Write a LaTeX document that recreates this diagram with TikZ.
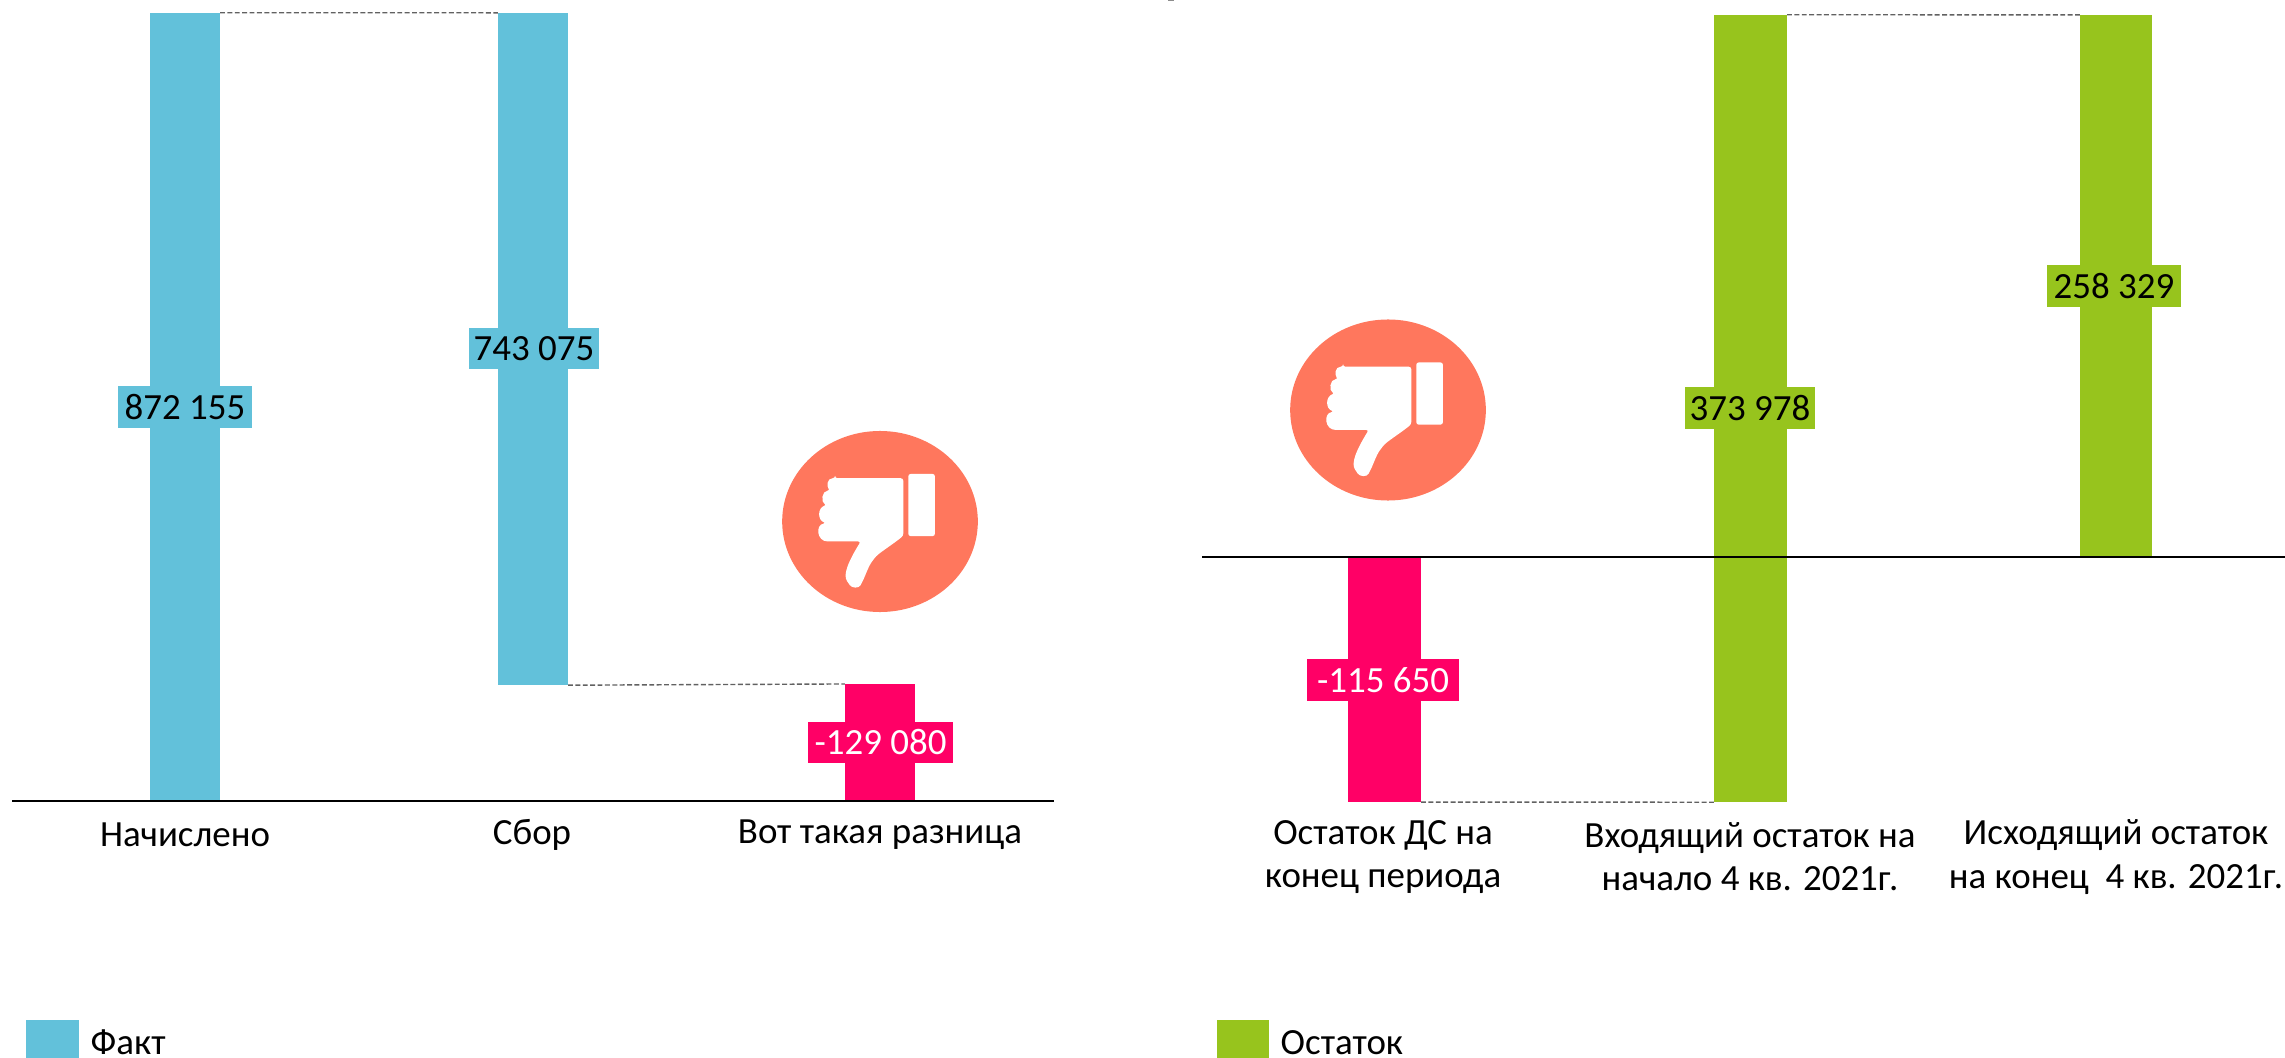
\documentclass[tikz,border=0pt]{standalone}
\usepackage{fontspec}
\setmainfont{Carlito}
\definecolor{qqfakt}{HTML}{62C1DA}
\definecolor{qqminus}{HTML}{FF0066}
\definecolor{qqost}{HTML}{97C41D}
\definecolor{qqcoral}{HTML}{FF775D}
\tikzset{
  bar/.style={rectangle,inner sep=0pt,outer sep=0pt,minimum width=#1},
  val/.style={rectangle,inner sep=0pt,outer sep=0pt,minimum height=0.41cm,text=black,font=\fontsize{10.5}{12}\selectfont},
  lab/.style={align=center,inner sep=0pt,font=\fontsize{10.5}{12.3}\selectfont},
  gap/.style={dash pattern=on 1.4pt off 0.7pt,color=black!62,line width=0.4pt},
  axis/.style={line width=0.45pt,color=black}
}
\newcommand{\thumbicon}[1]{%
\begin{scope}[shift={(#1)},x=0.00333cm,y=-0.00333cm]
\fill [color=qqcoral] (0,0) ellipse (294 and 272);
\fill [white,rounded corners=0.7pt] (85,-143) rectangle (165,44);
\fill [white,rounded corners=0.7pt] (-135,-130) -- (70,-130) -- (70,43) .. controls (30,75) and (-5,95) .. (-20,115)
  .. controls (-35,135) and (-45,165) .. (-55,185) .. controls (-64,202) and (-85,200) .. (-95,185)
  .. controls (-112,160) and (-95,120) .. (-58,60) -- (-150,60) .. controls (-190,60) and (-195,10) .. (-162,5)
  .. controls (-188,-5) and (-188,-40) .. (-160,-50) .. controls (-178,-58) and (-175,-92) .. (-150,-93)
  .. controls (-160,-105) and (-160,-130) .. (-135,-130) -- cycle;
\end{scope}}
\begin{document}
\begin{tikzpicture}[x=0.01cm,y=-0.01cm]
\useasboundingbox (0,0) rectangle (2285,1058);
\fill [color=black!45] (1168,0) rectangle (1174,1.3);

% left chart
\node (nach) [bar=0.70cm,minimum height=7.88cm,fill=qqfakt] at (185,407) {};
\node (sbor) [bar=0.70cm,minimum height=6.72cm,fill=qqfakt] at (533,349) {};
\node (razn) [bar=0.70cm,minimum height=1.17cm,fill=qqminus] at (880,742.5) {};
\coordinate (axl1) at (12,801);
\coordinate (axl2) at (1054,801);
\draw [axis] (axl1)-- (axl2);
\draw [gap] (nach.north east)-- (sbor.north west);
\draw [gap] (sbor.south east)-- (razn.north west);
\node (vnach) [val,minimum width=1.34cm,fill=qqfakt] at (185,407) {872 155};
\node (vsbor) [val,minimum width=1.30cm,fill=qqfakt] at (534,348.5) {743 075};
\node (vrazn) [val,minimum width=1.45cm,fill=qqminus,text=white] at (880.5,742.5) {-129 080};
\node (lnach) [lab] at (185,835) {Начислено};
\node (lsbor) [lab] at (532,835) {Сбор};
\node (lrazn) [lab] at (880,835) {Вот такая разница};
\thumbicon{880,521.5}

% right chart
\node (ostds) [bar=0.73cm,minimum height=2.45cm,fill=qqminus] at (1384.5,679.5) {};
\node (vhod) [bar=0.73cm,minimum height=7.87cm,fill=qqost] at (1750.5,408.5) {};
\node (ishod) [bar=0.72cm,minimum height=5.42cm,fill=qqost] at (2116,286) {};
\coordinate (axr1) at (1202,557);
\coordinate (axr2) at (2285,557);
\draw [axis] (axr1)-- (axr2);
\draw [gap] (ostds.south east)-- (vhod.south west);
\draw [gap] (vhod.north east)-- (ishod.north west);
\node (vostds) [val,minimum width=1.52cm,fill=qqminus,text=white] at (1383,680) {-115 650};
\node (vvhod) [val,minimum width=1.29cm,fill=qqost] at (1750,408) {373 978};
\node (vishod) [val,minimum width=1.33cm,fill=qqost] at (2114,286) {258 329};
\node (lostds) [lab] at (1383,857) {Остаток ДС на\\конец периода};
\node (lvhod) [lab] at (1750,857) {Входящий остаток на\\начало 4 кв. 2021г.};
\node (lishod) [lab] at (2116,857) {Исходящий остаток\\на конец \ 4 кв. 2021г.};
\thumbicon{1388,410}

% legend
\fill [color=qqfakt] (26,1020) rectangle (79,1058);
\node (kfakt) [lab,anchor=base west] at (90,1054) {Факт};
\fill [color=qqost] (1217,1020) rectangle (1269,1058);
\node (kost) [lab,anchor=base west] at (1280,1054) {Остаток};
\end{tikzpicture}
\end{document}
